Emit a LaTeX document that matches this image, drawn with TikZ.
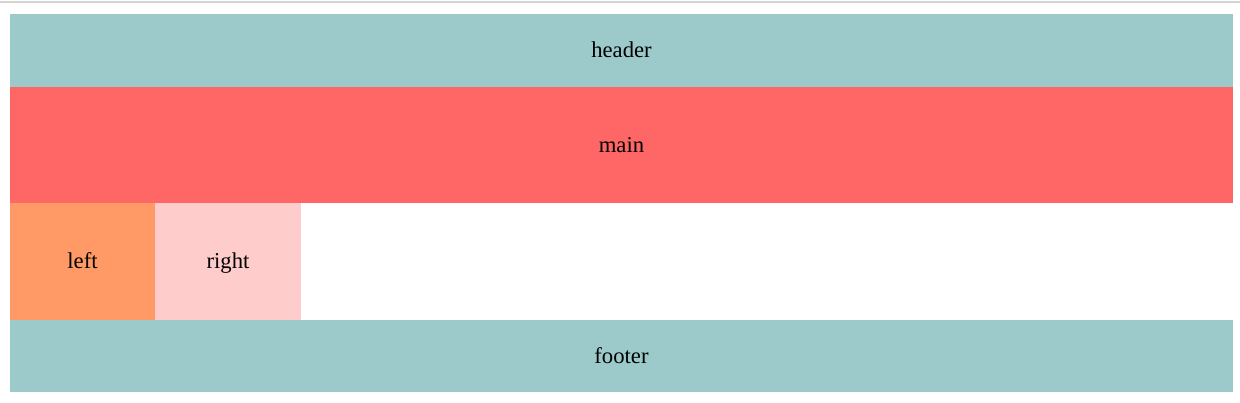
\documentclass[tikz,border=0pt]{standalone}
\usepackage{fontspec}
\setmainfont{Liberation Serif}
\definecolor{teal1}{HTML}{9CCACB}
\definecolor{red1}{HTML}{FF6666}
\definecolor{orange1}{HTML}{FF9966}
\definecolor{pink1}{HTML}{FFCCCC}
\definecolor{rule1}{HTML}{D4D4D4}
\tikzset{
  px/.style={x=0.75pt,y=-0.75pt},
  cell/.style 2 args={draw=none, inner sep=0pt, outer sep=0pt, anchor=center,
    minimum width={#1*0.75pt}, minimum height={#2*0.75pt},
    text height=10.8pt, text depth=0pt,
    font=\fontsize{17}{20}\selectfont}
}
\begin{document}
\begin{tikzpicture}[px]
\useasboundingbox (0,0) rectangle (1240,403);
\fill[white] (0,0) rectangle (1240,403);
\draw[rule1, line width=1.2pt] (0,2) -- (1240,2);
\node[cell={1223}{73}, fill=teal1] (header) at (621.5,50.5) {header};
\node[cell={1223}{116}, fill=red1] (main) at (621.5,145) {main};
\node[cell={145}{117}, fill=orange1] (left) at (82.5,261.5) {left};
\node[cell={146}{117}, fill=pink1] (right) at (228,261.5) {right};
\node[cell={1223}{72}, fill=teal1] (footer) at (621.5,356) {footer};
\end{tikzpicture}
\end{document}
